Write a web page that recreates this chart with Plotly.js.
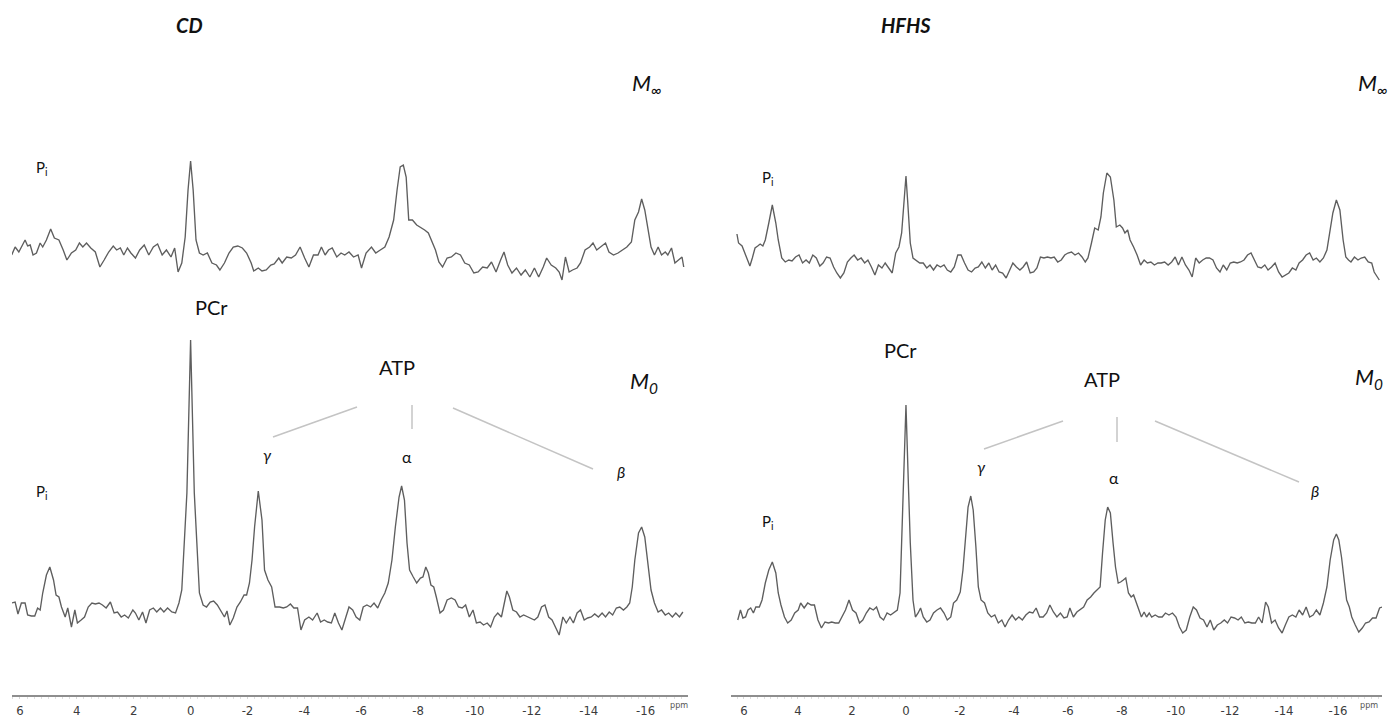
<!DOCTYPE html>
<html>
<head>
<meta charset="utf-8">
<script src="https://cdn.plot.ly/plotly-3.0.1.min.js"></script>
<style>html,body{margin:0;padding:0;background:#fff;}#chart{width:1397px;height:718px;}</style>
</head>
<body>
<div id="chart"></div>
<script>
// ---- axis ticks (ppm) ----
const tickVals = [6,4,2,0,-2,-4,-6,-8,-10,-12,-14,-16];
const tickText = ['6','4','2','0','-2','-4','-6','-8','-10','-12','-14','-16'];

// ---- CD, M_inf (top left) : chemical shift (ppm) / intensity (a.u.) ----
const cdMinfPpm = [6.29,6.17,6.04,5.92,5.82,5.73,5.64,5.54,5.42,5.29,5.20,5.07,4.92,4.79,4.63,4.48,4.35,4.19,4.04,3.91,3.79,3.66,3.51,3.35,3.19,3.04,2.88,2.72,2.60,2.47,2.35,2.22,2.10,1.94,1.79,1.63,1.47,1.31,1.16,1.00,0.85,0.69,0.56,0.44,0.31,0.19,0.09,0,-0.09,-0.19,-0.31,-0.44,-0.59,-0.75,-0.91,-1.03,-1.19,-1.35,-1.50,-1.66,-1.82,-1.97,-2.13,-2.22,-2.38,-2.51,-2.66,-2.82,-2.94,-3.10,-3.22,-3.38,-3.54,-3.69,-3.85,-4.01,-4.16,-4.32,-4.48,-4.60,-4.73,-4.85,-4.98,-5.14,-5.29,-5.42,-5.57,-5.73,-5.89,-6.01,-6.17,-6.36,-6.51,-6.67,-6.83,-6.98,-7.14,-7.26,-7.37,-7.48,-7.58,-7.67,-7.80,-7.95,-8.08,-8.23,-8.36,-8.48,-8.61,-8.73,-8.86,-9.02,-9.17,-9.33,-9.49,-9.64,-9.80,-9.96,-10.11,-10.27,-10.43,-10.58,-10.74,-10.90,-11.02,-11.15,-11.30,-11.46,-11.62,-11.77,-11.93,-12.09,-12.24,-12.40,-12.52,-12.68,-12.84,-12.96,-13.06,-13.18,-13.31,-13.43,-13.59,-13.71,-13.87,-14.03,-14.15,-14.28,-14.43,-14.59,-14.71,-14.87,-15.03,-15.18,-15.34,-15.50,-15.62,-15.75,-15.86,-15.97,-16.06,-16.19,-16.31,-16.44,-16.56,-16.69,-16.78,-16.91,-17.03,-17.16,-17.28,-17.34];
const cdMinfInt = [0,8,3,10,15,9,10,0,2,12,8,15,26,17,15,5,-5,2,5,12,8,12,7,3,-12,-5,3,9,5,7,0,7,2,-3,5,10,0,8,11,0,5,-2,7,-17,-8,18,65,94,65,15,2,0,2,-8,-10,-15,-8,2,8,9,7,2,-8,-16,-13,-16,-15,-10,-9,-3,-8,-2,-3,0,8,-3,-12,0,0,8,0,5,7,-2,2,0,3,-2,0,-13,2,8,2,5,8,18,35,65,88,90,78,35,35,30,28,25,22,13,5,-7,-12,-3,-2,2,0,-8,-10,-18,-17,-12,-13,-7,-17,-5,3,-10,-18,-13,-20,-15,-22,-13,-22,-12,-3,-10,-13,-17,-25,-2,-17,-15,-13,-8,5,8,12,5,8,12,3,0,2,5,8,13,35,43,56,45,28,8,0,8,0,3,0,7,-8,-5,-2,-12];

// ---- CD, M_0 (bottom left) ----
const cdM0Ppm = [6.29,6.17,6.07,5.95,5.82,5.73,5.60,5.48,5.38,5.29,5.20,5.07,4.95,4.82,4.73,4.63,4.54,4.41,4.32,4.19,4.07,3.98,3.85,3.73,3.60,3.47,3.35,3.22,3.10,2.97,2.82,2.69,2.57,2.44,2.32,2.19,2.03,1.94,1.82,1.69,1.57,1.44,1.31,1.19,1.06,0.94,0.81,0.66,0.53,0.41,0.31,0.22,0.13,0,-0.13,-0.22,-0.31,-0.44,-0.56,-0.69,-0.81,-0.94,-1.07,-1.19,-1.28,-1.38,-1.50,-1.63,-1.75,-1.88,-1.97,-2.07,-2.16,-2.25,-2.38,-2.51,-2.60,-2.72,-2.85,-2.97,-3.13,-3.26,-3.38,-3.51,-3.63,-3.76,-3.88,-4.01,-4.16,-4.29,-4.45,-4.57,-4.70,-4.82,-4.95,-5.07,-5.20,-5.32,-5.45,-5.57,-5.70,-5.82,-5.95,-6.07,-6.20,-6.33,-6.45,-6.58,-6.70,-6.83,-6.95,-7.08,-7.20,-7.33,-7.42,-7.52,-7.61,-7.70,-7.83,-7.95,-8.08,-8.17,-8.27,-8.36,-8.45,-8.55,-8.64,-8.77,-8.89,-9.02,-9.17,-9.30,-9.42,-9.55,-9.67,-9.80,-9.93,-10.05,-10.18,-10.30,-10.43,-10.55,-10.68,-10.80,-10.93,-11.02,-11.12,-11.21,-11.33,-11.46,-11.58,-11.71,-11.84,-11.96,-12.09,-12.21,-12.34,-12.46,-12.59,-12.71,-12.84,-12.96,-13.09,-13.21,-13.34,-13.46,-13.59,-13.71,-13.84,-13.96,-14.09,-14.21,-14.34,-14.47,-14.59,-14.72,-14.84,-14.97,-15.09,-15.22,-15.34,-15.44,-15.53,-15.62,-15.75,-15.86,-15.97,-16.06,-16.19,-16.31,-16.44,-16.56,-16.69,-16.81,-16.94,-17.06,-17.19,-17.31];
const cdM0Int = [4,5,-7,4,4,-8,-9,-9,-1,-3,14,32,40,27,12,10,0,-10,-1,-20,-3,-16,-13,-10,0,4,3,4,2,-1,5,-6,-5,-10,-8,-11,-3,-6,-13,-5,-16,-3,-1,-5,-1,-5,-1,-5,-6,4,17,64,114,267,114,64,14,2,0,5,6,2,-5,-10,-4,-18,-11,0,5,12,12,24,47,80,116,87,37,27,20,0,0,-1,0,3,-1,-1,-23,-13,-10,-13,-6,-15,-13,-15,-16,-6,-16,-23,-11,0,-3,-10,-13,0,2,0,4,-1,7,14,24,47,80,110,121,107,64,37,30,24,29,30,40,34,22,20,10,-6,-3,7,9,7,0,-1,2,-10,-3,-16,-15,-18,-16,-20,-10,-6,-10,4,16,10,-3,-5,-10,-8,-10,-11,-13,-10,0,2,-10,-13,-20,-28,-10,-16,-10,-16,-6,-3,-13,-11,-10,-7,-10,-6,-10,-5,-8,-1,0,-3,0,4,20,47,74,80,70,50,17,4,-5,-3,-8,-6,-10,-6,-10,-5];

// ---- HFHS, M_inf (top right) ----
const hfMinfPpm = [6.26,6.20,6.07,5.97,5.88,5.78,5.69,5.59,5.49,5.40,5.30,5.21,5.08,4.95,4.82,4.73,4.60,4.47,4.34,4.22,4.09,3.96,3.83,3.70,3.58,3.45,3.32,3.19,3.07,2.94,2.81,2.68,2.56,2.43,2.30,2.17,2.04,1.92,1.79,1.66,1.53,1.41,1.28,1.15,1.02,0.89,0.77,0.64,0.51,0.38,0.26,0.16,0.06,0,-0.06,-0.16,-0.26,-0.38,-0.51,-0.64,-0.77,-0.89,-1.02,-1.15,-1.28,-1.41,-1.53,-1.66,-1.79,-1.92,-2.04,-2.17,-2.30,-2.43,-2.56,-2.68,-2.81,-2.94,-3.07,-3.19,-3.32,-3.45,-3.58,-3.71,-3.83,-3.96,-4.09,-4.22,-4.34,-4.47,-4.60,-4.73,-4.85,-4.98,-5.11,-5.24,-5.37,-5.49,-5.62,-5.75,-5.88,-6.00,-6.13,-6.26,-6.39,-6.52,-6.64,-6.74,-6.87,-6.99,-7.12,-7.22,-7.31,-7.44,-7.57,-7.70,-7.79,-7.92,-8.02,-8.11,-8.21,-8.30,-8.43,-8.56,-8.69,-8.82,-8.94,-9.07,-9.20,-9.33,-9.45,-9.58,-9.71,-9.84,-9.97,-10.09,-10.22,-10.35,-10.48,-10.60,-10.73,-10.86,-10.99,-11.12,-11.24,-11.37,-11.50,-11.63,-11.75,-11.88,-12.01,-12.14,-12.27,-12.39,-12.52,-12.65,-12.78,-12.90,-13.03,-13.16,-13.29,-13.41,-13.54,-13.67,-13.80,-13.93,-14.05,-14.18,-14.31,-14.44,-14.56,-14.69,-14.82,-14.95,-15.08,-15.20,-15.33,-15.46,-15.59,-15.71,-15.81,-15.94,-16.07,-16.19,-16.29,-16.39,-16.48,-16.61,-16.74,-16.86,-16.99,-17.12,-17.25,-17.34,-17.44,-17.53];
const hfMinfInt = [29,20,17,10,5,-3,5,15,17,19,17,23,40,58,40,23,5,1,3,2,6,8,0,3,0,8,5,-3,0,6,5,-4,-10,-15,-10,1,5,8,3,5,0,3,-4,-12,-2,-5,0,-5,-10,10,16,30,63,87,63,20,5,3,0,0,-5,-2,-7,-2,-4,-2,-7,-9,-4,8,8,0,-7,-9,-5,-4,1,-5,0,-7,-2,-9,-10,-15,-7,0,-4,-7,-4,1,-10,-9,-5,6,5,6,5,6,1,3,8,10,11,8,10,6,1,5,20,35,33,46,70,90,86,63,36,38,35,30,33,23,16,8,-2,3,0,1,-2,0,0,1,-2,1,6,-2,6,-2,-7,-14,5,0,3,5,5,3,-5,-9,-2,-7,0,1,0,1,3,8,10,3,-4,-5,-2,-7,-4,0,-9,-14,-12,-10,-5,-7,0,3,8,10,3,5,1,5,13,33,50,63,53,23,6,3,1,6,3,5,6,1,0,-9,-14,-17];

// ---- HFHS, M_0 (bottom right) ----
const hfM0Ppm = [6.23,6.13,6.04,5.94,5.85,5.75,5.65,5.56,5.43,5.33,5.21,5.08,4.95,4.82,4.73,4.63,4.50,4.38,4.25,4.12,3.99,3.90,3.77,3.64,3.51,3.39,3.26,3.13,3.00,2.87,2.75,2.62,2.49,2.36,2.24,2.11,1.98,1.85,1.72,1.60,1.47,1.34,1.21,1.09,0.96,0.83,0.70,0.57,0.45,0.32,0.22,0.16,0.10,0,-0.10,-0.16,-0.26,-0.35,-0.45,-0.54,-0.64,-0.77,-0.89,-1.02,-1.15,-1.28,-1.41,-1.53,-1.66,-1.76,-1.88,-2.01,-2.11,-2.20,-2.30,-2.40,-2.49,-2.59,-2.68,-2.78,-2.91,-3.03,-3.16,-3.29,-3.42,-3.55,-3.67,-3.80,-3.93,-4.06,-4.18,-4.31,-4.44,-4.57,-4.70,-4.82,-4.95,-5.08,-5.21,-5.33,-5.46,-5.59,-5.72,-5.85,-5.97,-6.07,-6.20,-6.33,-6.45,-6.58,-6.71,-6.84,-6.96,-7.09,-7.19,-7.28,-7.38,-7.47,-7.57,-7.67,-7.76,-7.86,-7.95,-8.05,-8.14,-8.24,-8.34,-8.43,-8.53,-8.62,-8.72,-8.82,-8.91,-9.01,-9.10,-9.23,-9.36,-9.49,-9.61,-9.74,-9.87,-10.00,-10.13,-10.25,-10.38,-10.51,-10.64,-10.76,-10.89,-11.02,-11.15,-11.27,-11.40,-11.53,-11.66,-11.79,-11.91,-12.04,-12.17,-12.30,-12.42,-12.55,-12.68,-12.81,-12.94,-13.06,-13.19,-13.32,-13.42,-13.54,-13.67,-13.80,-13.93,-14.05,-14.18,-14.31,-14.44,-14.56,-14.69,-14.82,-14.95,-15.08,-15.20,-15.33,-15.46,-15.59,-15.71,-15.84,-15.94,-16.03,-16.13,-16.23,-16.32,-16.42,-16.51,-16.64,-16.77,-16.90,-17.02,-17.15,-17.28,-17.41,-17.54,-17.63];
const hfM0Int = [-6,4,-4,-3,4,6,1,7,7,14,31,44,52,41,21,9,-3,-9,-6,1,4,11,6,11,9,9,-6,-14,-8,-9,-8,-9,-9,-3,4,14,4,1,-9,-6,1,6,4,7,-3,-6,1,-1,1,4,21,71,121,209,121,71,14,-3,1,6,-3,-8,-6,1,4,6,1,-6,-3,11,14,22,44,77,107,118,104,67,27,14,11,1,-3,-1,-9,-6,-13,-6,-1,-6,-3,-6,-1,2,1,6,-3,-3,1,9,2,-3,1,-4,-3,6,-3,2,4,7,14,17,21,24,27,61,94,107,101,71,47,31,32,34,36,21,17,19,11,6,-3,2,-3,1,-3,-1,-3,-3,1,-1,1,-3,-13,-19,-16,-3,7,4,-4,-6,-13,-6,-16,-11,-9,-6,-9,-3,-4,-6,-3,-9,-8,-9,-9,-3,-9,12,7,-9,-6,-14,-19,-11,-3,-1,-3,4,-1,7,-3,-1,4,-1,11,27,54,74,80,74,57,34,14,7,-3,-11,-18,-14,-9,-8,-4,-4,6,7];

const W = 1397, PH = 695; // figure width, plot-area height in px
const px = v => v / W;
const py = v => (PH - v) / PH;

const lineStyle = {color: '#5e5e5e', width: 1.35};
function spec(x, y, xa, ya) {
  return {x: x, y: y, xaxis: xa, yaxis: ya, type: 'scatter', mode: 'lines',
          line: lineStyle, hoverinfo: 'skip', showlegend: false};
}
const data = [
  spec(cdM0Ppm, cdM0Int, 'x', 'y'),
  spec(cdMinfPpm, cdMinfInt, 'x', 'y2'),
  spec(hfM0Ppm, hfM0Int, 'x2', 'y3'),
  spec(hfMinfPpm, hfMinfInt, 'x2', 'y4')
];

function xAxis(domain, range, anchor) {
  return {
    domain: domain, range: range, anchor: anchor,
    tickmode: 'array', tickvals: tickVals, ticktext: tickText,
    showline: true, linecolor: '#8e8e8e', linewidth: 2,
    ticks: 'outside', ticklen: 2, tickcolor: '#d6d6d6', tickwidth: 1,
    minor: {dtick: 0.25, ticks: 'outside', ticklen: 2, tickcolor: '#dedede', showgrid: false},
    showgrid: false, zeroline: false, fixedrange: true, automargin: false,
    tickfont: {family: 'DejaVu Sans Condensed, DejaVu Sans, sans-serif', size: 13, color: '#3c3c3c'}
  };
}
const hidden = {visible: false, showgrid: false, zeroline: false, fixedrange: true};

const annFont = 'Lato, "Open Sans", sans-serif';
function ann(text, x, y, size, extra) {
  return Object.assign({text: text, x: px(x), y: py(y), xref: 'paper', yref: 'paper',
    showarrow: false, xanchor: 'center', yanchor: 'middle',
    font: {family: annFont, size: size, color: '#111'}}, extra || {});
}
const smallFont = {family: 'DejaVu Sans Condensed, DejaVu Sans', size: 9, color: '#555'};
const annotations = [
  ann('<b><i>CD</i></b>', 189, 25, 20),
  ann('<b><i>HFHS</i></b>', 906, 25, 20),
  ann('<i>M<sub>∞</sub></i>', 646, 84, 22),
  ann('<i>M<sub>∞</sub></i>', 1372, 84, 22),
  ann('<i>M<sub>0</sub></i>', 644, 382, 22),
  ann('<i>M<sub>0</sub></i>', 1369, 378, 22),
  ann('P<sub>i</sub>', 42, 168, 15),
  ann('P<sub>i</sub>', 768, 178, 15),
  ann('P<sub>i</sub>', 42, 492, 15),
  ann('P<sub>i</sub>', 768, 522, 15),
  ann('PCr', 211, 307, 20),
  ann('PCr', 900, 350, 20),
  ann('ATP', 397, 367, 20),
  ann('ATP', 1102, 379, 20),
  ann('<i>γ</i>', 267, 455, 16),
  ann('α', 407, 457, 16),
  ann('<i>β</i>', 621, 471, 16),
  ann('<i>γ</i>', 981, 466, 16),
  ann('α', 1114, 477, 16),
  ann('<i>β</i>', 1315, 490, 16),
  ann('ppm', 679, 705, 9, {font: smallFont}),
  ann('ppm', 1369, 705, 9, {font: smallFont})
];

function seg(x0, y0, x1, y1) {
  return {type: 'line', xref: 'paper', yref: 'paper', x0: px(x0), y0: py(y0), x1: px(x1), y1: py(y1),
          line: {color: '#c4c4c4', width: 1.5}};
}
const shapes = [
  seg(273, 437, 357, 407), seg(412, 405, 412, 429), seg(453, 408, 593, 469),
  seg(984, 449, 1063, 421), seg(1117, 417, 1117, 442), seg(1155, 421, 1299, 482)
];

const layout = {
  width: 1397, height: 718,
  margin: {l: 0, r: 0, t: 0, b: 23, pad: 0},
  paper_bgcolor: '#ffffff', plot_bgcolor: '#ffffff',
  showlegend: false,
  xaxis: xAxis([12 / W, 688 / W], [6.28, -17.49], 'y'),
  xaxis2: xAxis([731 / W, 1382 / W], [6.48, -17.63], 'y3'),
  yaxis: Object.assign({domain: [0, 1], range: [-88, 607], anchor: 'x'}, hidden),
  yaxis2: Object.assign({overlaying: 'y', range: [-440, 255], anchor: 'x'}, hidden),
  yaxis3: Object.assign({domain: [0, 1], range: [-81, 614], anchor: 'x2'}, hidden),
  yaxis4: Object.assign({overlaying: 'y3', range: [-432, 263], anchor: 'x2'}, hidden),
  annotations: annotations,
  shapes: shapes
};

Plotly.newPlot('chart', data, layout, {displayModeBar: false, staticPlot: true});
</script>
</body>
</html>
